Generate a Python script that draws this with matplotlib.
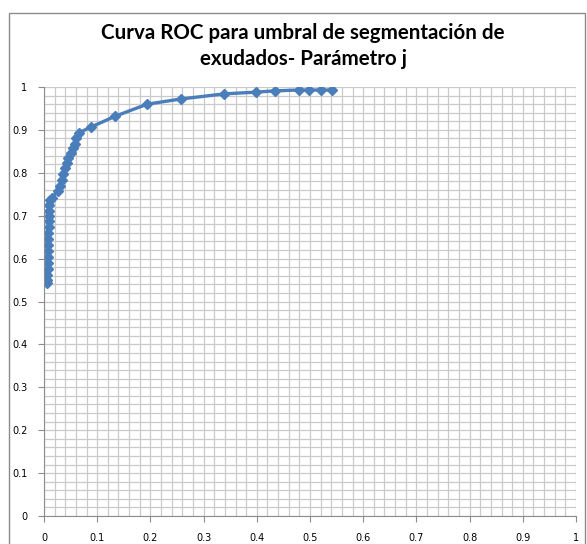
import numpy as np
import matplotlib
matplotlib.use('Agg')
import matplotlib.pyplot as plt
from matplotlib.patches import Rectangle

# False positive rate / true positive rate
fpr = [0.006, 0.006, 0.006, 0.007, 0.007, 0.007, 0.008, 0.008, 0.008, 0.008,
       0.009, 0.009, 0.009, 0.010, 0.010, 0.011,
       0.015, 0.026, 0.030, 0.034, 0.035, 0.039, 0.043, 0.045, 0.050, 0.054,
       0.058, 0.061, 0.065, 0.089, 0.134, 0.194, 0.257, 0.339, 0.398, 0.434,
       0.479, 0.499, 0.521, 0.542]
tpr = [0.543, 0.550, 0.562, 0.576, 0.590, 0.604, 0.618, 0.632, 0.645, 0.660,
       0.673, 0.687, 0.700, 0.712, 0.725, 0.737,
       0.741, 0.758, 0.769, 0.783, 0.797, 0.811, 0.823, 0.834, 0.846, 0.858,
       0.867, 0.881, 0.893, 0.907, 0.932, 0.960, 0.972, 0.984, 0.988, 0.991,
       0.993, 0.993, 0.993, 0.993]

title = 'Curva ROC para umbral de segmentación de\nexudados- Parámetro j'

fig = plt.figure(figsize=(5.87, 5.44), dpi=100)
fig.patches.append(Rectangle((9 / 587, -0.05), 576 / 587, 1.05 - 13 / 544,
                             transform=fig.transFigure, fill=False,
                             edgecolor='#8c8c8c', linewidth=1))

ax = fig.add_axes([44 / 587, 1 - 516 / 544, 532 / 587, 429 / 544])
ax.plot(fpr, tpr, color='#4a7ebb', linewidth=2.4, marker='D', markersize=5,
        markerfacecolor='#4a7ebb', markeredgecolor='#4a7ebb')

ax.set_xlim(0, 1)
ax.set_ylim(0, 1)
ax.set_xticks(np.arange(0, 1.01, 0.1))
ax.set_yticks(np.arange(0, 1.01, 0.1))
ax.set_xticklabels(['0', '0.1', '0.2', '0.3', '0.4', '0.5', '0.6', '0.7', '0.8', '0.9', '1'])
ax.set_yticklabels(['0', '0.1', '0.2', '0.3', '0.4', '0.5', '0.6', '0.7', '0.8', '0.9', '1'])
ax.set_xticks(np.arange(0, 1.001, 0.02), minor=True)
ax.set_yticks(np.arange(0, 1.001, 0.02), minor=True)
ax.grid(which='both', color='#cacaca', linewidth=0.9)
ax.set_axisbelow(True)
ax.tick_params(which='major', length=4, color='#8c8c8c', labelsize=7, pad=8)
ax.tick_params(which='minor', length=0)
for side in ['top', 'right']:
    ax.spines[side].set_visible(False)
for side in ['left', 'bottom']:
    ax.spines[side].set_color('#8c8c8c')

fig.text(303 / 587, 1 - 46 / 544, title, ha='center', va='center',
         fontsize=14.8, fontweight='bold', family='Lato', linespacing=1.4)

plt.savefig('out.png', dpi=100)
